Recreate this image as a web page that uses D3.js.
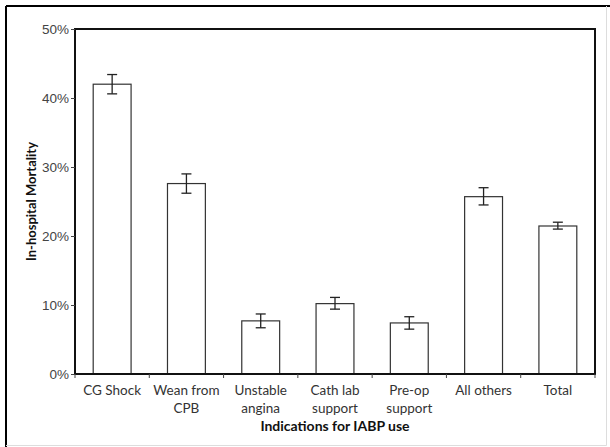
<!DOCTYPE html>
<html>
<head>
<meta charset="utf-8">
<script src="https://cdn.jsdelivr.net/npm/d3@7"></script>
<style>
  body { margin: 0; background: #fff; }
  svg { display: block; font-family: Lato, "Open Sans", sans-serif; }
</style>
</head>
<body>
<div id="chart"></div>
<script>
// Datos del grafico
var categories = [["CG Shock"], ["Wean from", "CPB"], ["Unstable", "angina"], ["Cath lab", "support"], ["Pre-op", "support"], ["All others"], ["Total"]];
var mortality = [42.0, 27.6, 7.7, 10.2, 7.4, 25.7, 21.45];
var errLow = [40.6, 26.2, 6.7, 9.4, 6.5, 24.5, 21.0];
var errHigh = [43.4, 29.0, 8.7, 11.1, 8.3, 27.0, 22.0];
var yTicks = [0, 10, 20, 30, 40, 50];

var W = 610, H = 447;
var margin = {top: 29, right: 15, bottom: 73, left: 75},
    width = W - margin.left - margin.right,
    height = H - margin.top - margin.bottom;

var svg = d3.select("#chart").append("svg")
    .attr("width", W)
    .attr("height", H);

// marco exterior
svg.append("line").attr("x1", 6).attr("y1", 6).attr("x2", 610).attr("y2", 6)
    .attr("stroke", "#000").attr("stroke-width", 2);
svg.append("line").attr("x1", 6).attr("y1", 6).attr("x2", 6).attr("y2", 447)
    .attr("stroke", "#000").attr("stroke-width", 2);
svg.append("line").attr("x1", 606.5).attr("y1", 6).attr("x2", 606.5).attr("y2", 445.5)
    .attr("stroke", "#ddd").attr("stroke-width", 1);
svg.append("line").attr("x1", 6).attr("y1", 445.5).attr("x2", 606.5).attr("y2", 445.5)
    .attr("stroke", "#ddd").attr("stroke-width", 1);

var g = svg.append("g")
    .attr("transform", "translate(" + margin.left + "," + margin.top + ")");

var x = d3.scaleBand().domain(d3.range(categories.length)).range([0, width]).paddingInner(0).paddingOuter(0);
var y = d3.scaleLinear().domain([0, 50]).range([height, 0]);
var bw = x.bandwidth() * 0.51;

// barras
g.selectAll("rect.bar")
    .data(mortality)
  .enter().append("rect")
    .attr("class", "bar")
    .attr("x", function(d, i) { return x(i) + (x.bandwidth() - bw) / 2; })
    .attr("y", function(d) { return y(d); })
    .attr("width", bw)
    .attr("height", function(d) { return height - y(d); })
    .attr("fill", "#fff")
    .attr("stroke", "#333")
    .attr("stroke-width", 1.2);

// barras de error
var eb = g.selectAll("g.err")
    .data(mortality)
  .enter().append("g")
    .attr("class", "err")
    .attr("transform", function(d, i) { return "translate(" + (x(i) + x.bandwidth() / 2) + ",0)"; });
eb.append("line")
    .attr("y1", function(d, i) { return y(errLow[i]); })
    .attr("y2", function(d, i) { return y(errHigh[i]); })
    .attr("stroke", "#222").attr("stroke-width", 1.3);
eb.append("line")
    .attr("x1", -5).attr("x2", 5)
    .attr("y1", function(d, i) { return y(errHigh[i]); })
    .attr("y2", function(d, i) { return y(errHigh[i]); })
    .attr("stroke", "#222").attr("stroke-width", 1.3);
eb.append("line")
    .attr("x1", -5).attr("x2", 5)
    .attr("y1", function(d, i) { return y(errLow[i]); })
    .attr("y2", function(d, i) { return y(errLow[i]); })
    .attr("stroke", "#222").attr("stroke-width", 1.3);

// marco del grafico
g.append("rect")
    .attr("width", width).attr("height", height)
    .attr("fill", "none").attr("stroke", "#111").attr("stroke-width", 2);

// eje y
var yAxis = d3.axisLeft(y)
    .tickValues(yTicks)
    .tickSize(4)
    .tickPadding(2)
    .tickFormat(function(d) { return d + "%"; });
var ya = g.append("g").call(yAxis);
ya.select(".domain").remove();
ya.selectAll("line").attr("stroke", "#444");
ya.selectAll("text").attr("fill", "#444").style("font-size", "13.5px");

// eje x: marcas en los limites de las bandas
var bounds = d3.range(categories.length + 1).map(function(i) { return i * x.step(); });
g.selectAll("line.xt")
    .data(bounds)
  .enter().append("line")
    .attr("class", "xt")
    .attr("x1", function(d) { return d; }).attr("x2", function(d) { return d; })
    .attr("y1", height).attr("y2", height + 4)
    .attr("stroke", "#444");

var lab = g.selectAll("text.xl")
    .data(categories)
  .enter().append("text")
    .attr("class", "xl")
    .attr("text-anchor", "middle")
    .attr("fill", "#333")
    .style("font-size", "13.5px")
    .attr("x", function(d, i) { return x(i) + x.bandwidth() / 2; })
    .attr("y", height + 21);
lab.selectAll("tspan")
    .data(function(d) { return d; })
  .enter().append("tspan")
    .attr("x", function() { return d3.select(this.parentNode).attr("x"); })
    .attr("dy", function(d, j) { return j === 0 ? 0 : 18; })
    .text(function(d) { return d; });

// titulos
g.append("text")
    .attr("x", width / 2).attr("y", height + 57)
    .attr("text-anchor", "middle")
    .attr("fill", "#111")
    .style("font-size", "14px").style("font-weight", "bold")
    .text("Indications for IABP use");

g.append("text")
    .attr("transform", "translate(-39," + (height / 2) + ") rotate(-90)")
    .attr("text-anchor", "middle")
    .attr("fill", "#111")
    .style("font-size", "13px").style("font-weight", "bold")
    .text("In-hospital Mortality");
</script>
</body>
</html>
